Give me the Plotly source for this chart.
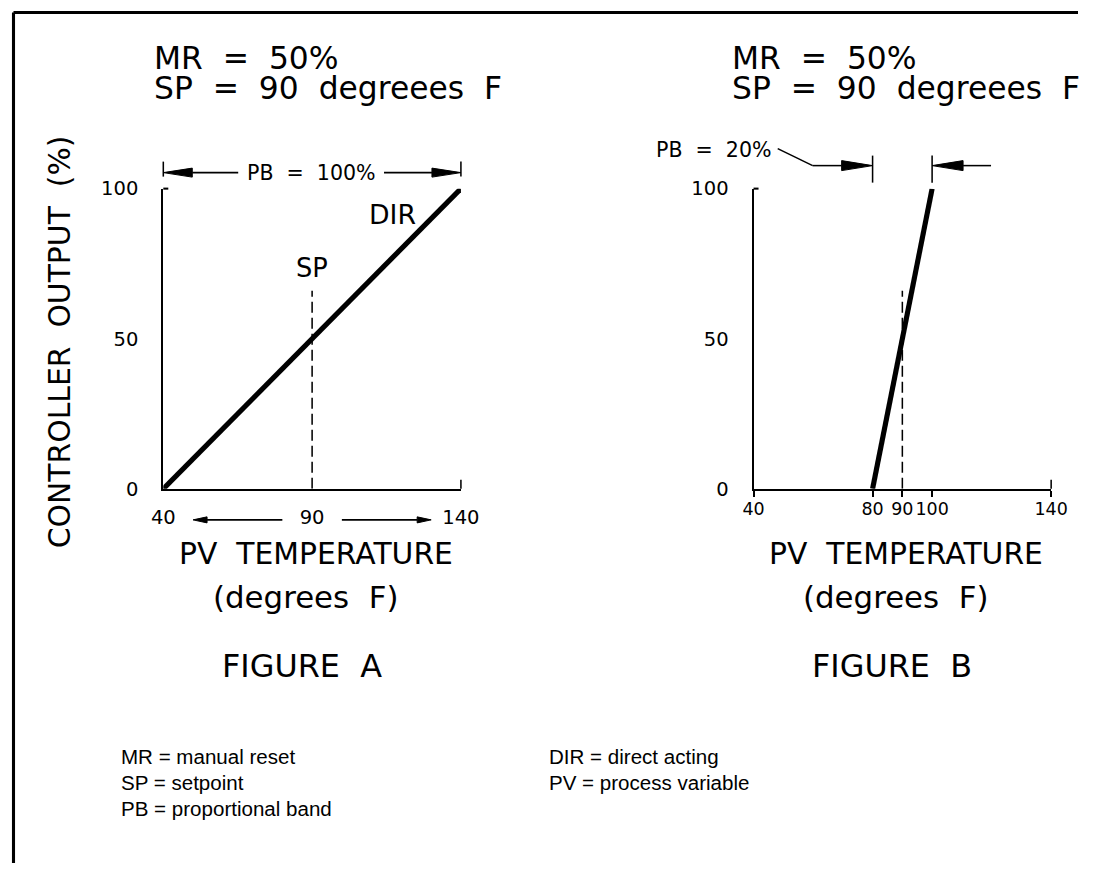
import plotly.graph_objects as go

W, H = 1097, 875

# ---------------- data ----------------
pv_a = [40, 140]          # PV temperature, figure A (PB = 100%)
out_a = [0, 100]          # controller output %
pv_b = [80, 100]          # PV temperature, figure B (PB = 20%)
out_b = [0, 100]
sp_pv = [90, 90]          # setpoint line
sp_out = [0, 66]
x_range = [40, 140]
y_range = [0, 100]
y_ticks = [0, 50, 100]
xa_ticks = [40, 90, 140]
xb_ticks = [40, 80, 90, 100, 140]
pb_a_band = [40, 140]     # PB = 100 %
pb_b_band = [80, 100]     # PB = 20 %
header_lines = ["MR  =  50%", "SP  =  90  degreees  F"]
legend_left = ["MR = manual reset", "SP = setpoint", "PB = proportional band"]
legend_right = ["DIR = direct acting", "PV = process variable"]

CAD = "DejaVu Sans"
HEL = "Liberation Sans"
BLACK = "#000000"

# page calibration: the photographed page is slightly reduced and offset,
# so layout is specified in target-picture pixels and mapped back here.
S, BX, BY = 0.973, 11.5, 11.5


def X(p):
    return max(0.0, min(1.0, ((p - BX) / S) / W))


def Y(p):
    return 1 - max(0.0, min(1.0, ((p - BY) / S) / H))


def F(size):
    return size / S


# layout (target pixels)
XA_DOM = (163, 461)
XB_DOM = (754, 1052)
Y_DOM = (489, 189)


def frac(v):
    return (v - x_range[0]) / (x_range[1] - x_range[0])


def xpix(v, dom):
    return dom[0] + frac(v) * (dom[1] - dom[0])


fig = go.Figure()

for xr, yr, xs, ys in (("x", "y", pv_a, out_a), ("x2", "y2", pv_b, out_b)):
    fig.add_trace(go.Scatter(x=xs, y=ys, mode="lines", line=dict(color=BLACK, width=F(5)),
                             xaxis=xr, yaxis=yr, showlegend=False, hoverinfo="skip"))
    fig.add_trace(go.Scatter(x=sp_pv, y=sp_out, mode="lines",
                             line=dict(color=BLACK, width=F(1.5), dash="11px,5px"),
                             xaxis=xr, yaxis=yr, showlegend=False, hoverinfo="skip"))

ydom = [Y(Y_DOM[0]), Y(Y_DOM[1])]
axis_common = dict(showline=True, linecolor=BLACK, linewidth=F(2), showgrid=False, zeroline=False,
                   fixedrange=True, tickangle=0)
yfont = dict(family=CAD, size=F(19), color=BLACK)

fig.update_layout(
    width=W, height=H, margin=dict(l=0, r=0, t=0, b=0), autosize=False,
    paper_bgcolor="white", plot_bgcolor="white", showlegend=False,
    xaxis=dict(domain=[X(XA_DOM[0]), X(XA_DOM[1])], range=x_range, tickvals=xa_ticks, ticks="",
               ticklabelstandoff=10, anchor="y", tickfont=yfont, **axis_common),
    yaxis=dict(domain=ydom, range=y_range, tickvals=y_ticks, ticks="",
               ticklabelstandoff=19, anchor="x", tickfont=yfont, **axis_common),
    xaxis2=dict(domain=[X(XB_DOM[0]), X(XB_DOM[1])], range=x_range, tickvals=xb_ticks, ticks="outside",
                ticklen=6, tickwidth=F(1.5), tickcolor=BLACK, ticklabelstandoff=-3, anchor="y2",
                tickfont=dict(family=CAD, size=F(17), color=BLACK), **axis_common),
    yaxis2=dict(domain=ydom, range=y_range, tickvals=y_ticks, ticks="",
                ticklabelstandoff=19, anchor="x2", tickfont=yfont, **axis_common),
)

shapes = []


def pline(x0, y0, x1, y1, w=1.5):
    shapes.append(dict(type="line", xref="paper", yref="paper", x0=X(x0), x1=X(x1), y0=Y(y0), y1=Y(y1),
                       line=dict(color=BLACK, width=F(w))))


def head(xh, yh, direction, L, hw):
    # narrow filled arrow head, tip at (xh, yh), pointing in `direction` (+1 right, -1 left)
    xb = xh - direction * L
    path = "M {a},{b} L {c},{d} L {c},{e} Z".format(
        a=X(xh), b=Y(yh), c=X(xb), d=Y(yh - hw), e=Y(yh + hw))
    shapes.append(dict(type="path", xref="paper", yref="paper", path=path,
                       fillcolor=BLACK, line=dict(color=BLACK, width=1)))


# frame (top and left edges only, as in the scan)
pline(BX + 1.5, BY + 1.5, 1200, BY + 1.5, 3)
pline(BX + 1.5, BY + 1.5, BX + 1.5, 1000, 3)

for dom in (XA_DOM, XB_DOM):
    # small corner tick at top of y axis
    pline(dom[0], Y_DOM[1], dom[0] + 5, Y_DOM[1], 2)
    # end tick at 140
    pline(xpix(x_range[1], dom), Y_DOM[0], xpix(x_range[1], dom), Y_DOM[0] - 9, 1.5)

# ---- PB = 100% (figure A)
ya = 173
la, ra = xpix(pb_a_band[0], XA_DOM), xpix(pb_a_band[1], XA_DOM)
for xv in (la, ra):
    pline(xv, ya - 11, xv, ya + 4, 1.5)
head(la, ya, -1, 29, 4.5)
head(ra, ya, +1, 29, 4.5)
pline(la + 29, ya, 238, ya)
pline(384, ya, ra - 29, ya)

# ---- PB = 20% (figure B)
yb = 166
lb, rb = xpix(pb_b_band[0], XB_DOM), xpix(pb_b_band[1], XB_DOM)
for xv in (lb, rb):
    pline(xv, yb - 10, xv, yb + 17, 1.5)
head(lb, yb, +1, 31, 5)
head(rb, yb, -1, 31, 5)
pline(lb - 60, yb, lb - 31, yb)
pline(lb - 60, yb, lb - 95, yb - 17)
pline(rb + 31, yb, rb + 59, yb)

# ---- x-axis direction arrows (figure A)
yx = 520
x50, x80, x100, x130 = (xpix(v, XA_DOM) for v in (50, 80, 100, 130))
head(x50, yx, -1, 14, 3)
pline(x50 + 14, yx, x80, yx)
head(x130, yx, +1, 14, 3)
pline(x100, yx, x130 - 14, yx)

fig.update_layout(shapes=shapes)

ann = []


def txt(text, x, y, xref="paper", yref="paper", size=29, family=CAD, xanchor="center", angle=0):
    ann.append(dict(x=x, y=y, xref=xref, yref=yref, text=text, showarrow=False,
                    font=dict(family=family, size=F(size), color=BLACK), xanchor=xanchor,
                    yanchor="middle", textangle=angle))


# headers
for left in (152, 730):
    for i, line in enumerate(header_lines):
        txt(line, X(left), Y(58 + 30 * i), xanchor="left", size=30.5)

txt("PB  =  100%", X(311), Y(ya), size=20)
txt("PB  =  20%", X(lb - 99), Y(yb - 16), size=20, xanchor="right")

# inline labels figure A
txt("SP", 90, 73.7, xref="x", yref="y", size=25)
txt("DIR", 117, 91.3, xref="x", yref="y", size=26)

# axis titles
txt("CONTROLLER  OUTPUT  (%)", X(59), Y(342), size=29, angle=-90)
for dom_c, fig_lbl in ((312, "FIGURE  A"), (903, "FIGURE  B")):
    txt("PV  TEMPERATURE", X(dom_c + 4), Y(554), size=29)
    txt("(degrees  F)", X(dom_c - 7), Y(597), size=30)
    txt(fig_lbl, X(dom_c - 10), Y(666), size=31)

# bottom legend
for i, line in enumerate(legend_left):
    txt(line, X(119), Y(756 + 26 * i), family=HEL, size=20, xanchor="left")
for i, line in enumerate(legend_right):
    txt(line, X(547), Y(756 + 26 * i), family=HEL, size=20, xanchor="left")

fig.update_layout(annotations=ann)
fig.write_html("out.html", config={"displayModeBar": False},
               post_script="document.body.style.margin='0';document.body.style.overflow='hidden';")
